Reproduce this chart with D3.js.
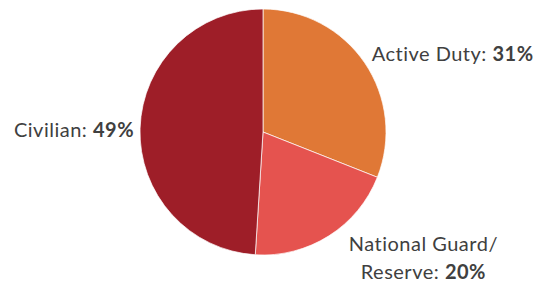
<!DOCTYPE html>
<html>
<head>
<meta charset="utf-8">
<script src="https://cdn.jsdelivr.net/npm/d3@7"></script>
<style>
  body { margin: 0; background: #fff; }
  svg text { font-family: Lato, "Open Sans", sans-serif; fill: #404040; font-size: 20px; letter-spacing: 0.5px; }
  svg text .val { font-weight: bold; }
</style>
</head>
<body>
<svg id="chart" width="537" height="283"></svg>
<script>
const categories = ['Active Duty', 'National Guard/ Reserve', 'Civilian'];
const shares = [31, 20, 49];
const colors = ['#E07836', '#E5534F', '#9E1E28'];

const width = 537, height = 283;
const cx = 263, cy = 132, radius = 123;

const svg = d3.select('#chart');
const g = svg.append('g').attr('transform', `translate(${cx},${cy})`);

const pie = d3.pie().sort(null).value(d => d.v);
const data = pie(categories.map((c, i) => ({c: c, v: shares[i], col: colors[i]})));

const arc = d3.arc().innerRadius(0).outerRadius(radius);

g.selectAll('path.slice')
  .data(data)
  .enter().append('path')
  .attr('class', 'slice')
  .attr('d', arc)
  .attr('fill', d => d.data.col)
  .attr('stroke', '#fff')
  .attr('stroke-width', 0.7);

// labels - pushed out from the slice middle, nudged per side
const labelArc = d3.arc().innerRadius(radius + 12).outerRadius(radius + 12);
const tweaks = [
  {dx: -3, dy: 5, anchor: 'start'},
  {dx: 88, dy: 5, anchor: 'middle'},
  {dx: 6, dy: 9, anchor: 'end'}
];

data.forEach((d, i) => {
  const [x, y] = labelArc.centroid(d);
  const t = tweaks[i];
  const tx = x + t.dx, ty = y + t.dy;
  const txt = g.append('text').attr('text-anchor', t.anchor);
  if (d.data.c.indexOf('/') > 0) {
    const lines = d.data.c.split('/ ');
    txt.append('tspan').attr('x', tx).attr('y', ty).text(lines[0] + '/');
    const l2 = txt.append('tspan').attr('x', tx).attr('y', ty + 28);
    l2.append('tspan').text(lines[1] + ': ');
    l2.append('tspan').attr('class', 'val').text(d.data.v + '%');
  } else {
    txt.attr('x', tx).attr('y', ty);
    txt.append('tspan').text(d.data.c + ': ');
    txt.append('tspan').attr('class', 'val').text(d.data.v + '%');
  }
});
</script>
</body>
</html>
